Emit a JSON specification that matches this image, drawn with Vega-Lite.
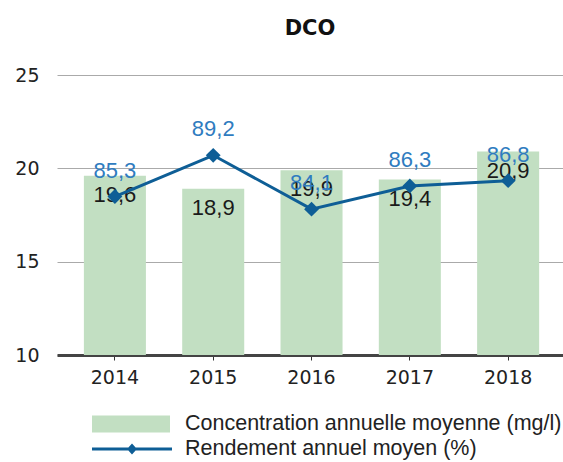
{
  "$schema": "https://vega.github.io/schema/vega-lite/v6.json",
  "width": 506,
  "height": 280,
  "autosize": {"type": "none"},
  "padding": {"left": 57, "top": 75, "right": 0, "bottom": 107},
  "background": "white",
  "title": {"text": "DCO", "font": "DejaVu Sans", "fontSize": 21, "fontWeight": "bold", "color": "#111111", "anchor": "middle", "offset": 27},
  "config": {
    "locale": {"number": {"decimal": ",", "thousands": " ", "grouping": [3], "currency": ["", " €"]}},
    "view": {"stroke": null},
    "axis": {"labelFont": "DejaVu Sans", "labelFontSize": 19, "labelColor": "#222222", "titleFont": "DejaVu Sans"}
  },
  "data": {
    "values": [
      {"year": "2014", "conc": 19.6, "rend": 85.3},
      {"year": "2015", "conc": 18.9, "rend": 89.2},
      {"year": "2016", "conc": 19.9, "rend": 84.1},
      {"year": "2017", "conc": 19.4, "rend": 86.3},
      {"year": "2018", "conc": 20.9, "rend": 86.8}
    ]
  },
  "encoding": {
    "x": {
      "field": "year", "type": "ordinal", "title": null,
      "scale": {"paddingInner": 0.369, "paddingOuter": 0.258, "align": 0.53},
      "axis": {"labelAngle": 0, "domainColor": "#444444", "domainWidth": 3, "tickColor": "#333333", "tickSize": 5, "tickWidth": 1, "labelPadding": 8, "grid": false}
    }
  },
  "layer": [
    {
      "encoding": {
        "y": {"field": "conc", "type": "quantitative", "title": null,
          "scale": {"domain": [10, 25], "zero": false, "nice": false},
          "axis": {"values": [10, 15, 20, 25], "domain": false, "ticks": false, "labelPadding": 18, "gridColor": "#aaaaaa", "gridWidth": 1}}
      },
      "layer": [
        {
          "mark": {"type": "bar", "color": "#c2dfc2"},
          "encoding": {
            "y2": {"datum": 10},
            "fill": {"datum": "Concentration annuelle moyenne (mg/l)", "type": "nominal",
              "scale": {"range": ["#c2dfc2"]},
              "legend": {"orient": "none", "legendX": 35, "legendY": 310, "title": null, "padding": 0,
                "symbolType": "M-1,-0.218H1V0.218H-1Z", "symbolSize": 6084, "symbolStrokeWidth": 0,
                "labelFont": "Liberation Sans", "labelFontSize": 21.5, "labelColor": "#222222", "labelLimit": 500, "labelOffset": 15}}
          }
        },
        {
          "mark": {"type": "text", "font": "Liberation Sans", "fontSize": 22, "color": "#1a1a1a", "baseline": "middle", "dy": 19},
          "encoding": {
            "text": {"field": "conc", "type": "quantitative", "format": ".1f"}
          }
        }
      ]
    },
    {
      "encoding": {
        "y": {"field": "rend", "type": "quantitative", "scale": {"domain": [70.3, 96.8], "zero": false, "nice": false}, "axis": null}
      },
      "layer": [
        {
          "mark": {"type": "line", "strokeWidth": 3},
          "encoding": {
            "stroke": {"datum": "Rendement annuel moyen (%)", "type": "nominal",
              "scale": {"range": ["#0e5e96"]},
              "legend": {"orient": "none", "legendX": 35, "legendY": 334, "title": null, "padding": 0,
                "symbolType": "M-1,-0.035H-0.09L0,-0.14L0.09,-0.035H1V0.035H0.09L0,0.14L-0.09,0.035H-1Z",
                "symbolSize": 6400, "symbolStrokeWidth": 0, "symbolFillColor": "#0e5e96",
                "labelFont": "Liberation Sans", "labelFontSize": 21.5, "labelColor": "#222222", "labelLimit": 500, "labelOffset": 13,
                "encode": {"symbols": {"update": {"fill": {"value": "#0e5e96"}, "strokeWidth": {"value": 0}}}}}}
          }
        },
        {
          "mark": {"type": "point", "shape": "diamond", "filled": true, "size": 220, "color": "#0e5e96", "opacity": 1}
        },
        {
          "mark": {"type": "text", "font": "Liberation Sans", "fontSize": 22, "color": "#2f7cc0", "baseline": "middle", "dy": -26},
          "encoding": {
            "text": {"field": "rend", "type": "quantitative", "format": ".1f"}
          }
        }
      ]
    }
  ],
  "resolve": {"scale": {"y": "independent", "fill": "independent", "stroke": "independent"}}
}
